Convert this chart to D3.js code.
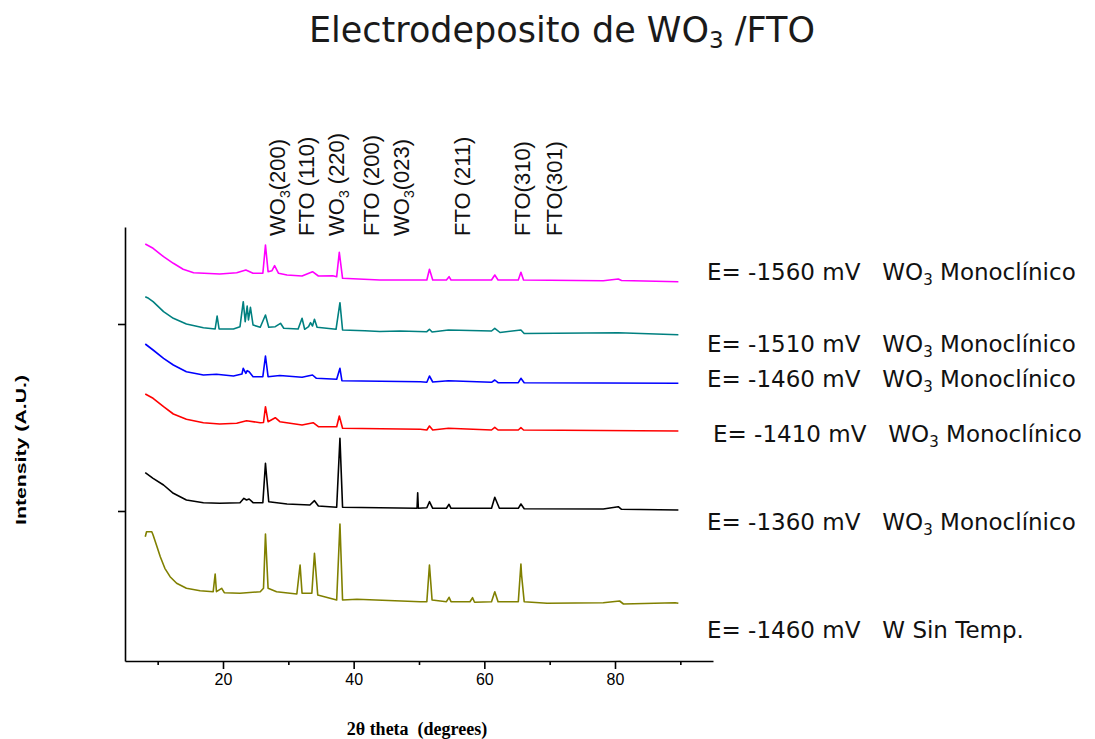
<!DOCTYPE html>
<html>
<head>
<meta charset="utf-8">
<script src="https://cdn.jsdelivr.net/npm/d3@7"></script>
<style>
  body { margin: 0; background: #fff; }
  text { white-space: pre; }
</style>
</head>
<body>
<svg id="chart"></svg>
<script>
const width = 1095, height = 739;

// [2θ (deg), intensity (a.u.)]
const scan1560 = [[8.1,417],[9.3,412.7],[10.9,404.3],[12.4,397.7],[13.9,391.7],[15.5,388.3],[19.5,387],[22.1,388.3],[23.5,391],[24.6,387.7],[26.1,387.7],[26.5,416],[26.9,389.3],[27.5,390.3],[27.9,395.3],[28.5,387.7],[29.8,386],[32.1,385],[33.7,389.3],[34.6,385],[36.8,385.3],[37.4,384.3],[37.8,408.7],[38.3,382.7],[44.0,381],[51.2,381],[51.6,391.7],[52.1,381],[54.2,381],[54.6,384.3],[54.9,381],[61.1,381],[61.6,386],[62.1,381],[65.2,381],[65.6,388.7],[66.0,381],[78.2,380.3],[80.5,382],[81.0,380.5],[89.7,379.3]];
const scan1510 = [[8.1,364.3],[8.6,362.7],[9.3,359.3],[10.9,349.3],[12.4,342.7],[14.4,337],[17.0,333.3],[18.8,332],[19.1,345],[19.4,332],[21.6,332],[22.6,334.3],[23.1,359.3],[23.4,339.3],[23.7,355],[23.9,341],[24.2,353.7],[24.6,336],[25.7,333.7],[26.5,346],[27.0,333.7],[28.0,334.3],[28.8,337.7],[29.3,332.7],[31.5,332],[32.1,342.7],[32.5,331.7],[33.1,334.3],[33.4,338.3],[33.7,335],[34.0,341.7],[34.4,333.7],[37.3,331.7],[37.9,358.3],[38.3,331],[41.7,330.3],[44.0,329.5],[47.1,330],[51.2,329.3],[51.6,331.7],[52.0,329],[54.5,331],[61.1,330],[61.6,332.7],[62.4,328.5],[65.6,331],[66.1,327.5],[80.5,328.3],[89.7,326.3]];
const scan1460 = [[8.1,317],[9.3,311],[10.9,302.7],[12.4,296],[14.4,289.3],[17.0,286],[19.0,286.7],[21.6,285],[22.9,287],[23.1,292.7],[23.5,287.7],[23.7,290.3],[24.0,289.3],[24.6,284.3],[26.1,284.3],[26.5,305],[26.9,284.3],[28.7,285.5],[32.1,283.7],[33.7,286],[34.3,282.7],[37.4,281.7],[37.9,292.7],[38.2,280.3],[50.2,279.3],[51.2,278.7],[51.6,285],[52.1,279],[54.5,280.3],[61.1,278.7],[61.6,281],[62.1,278.3],[65.2,278.3],[65.6,282.7],[66.1,278.3],[89.7,277.7]];
const scan1410 = [[8.1,267],[9.3,262.7],[10.9,254.3],[12.4,247],[14.4,241.7],[17.0,238.3],[19.5,237],[22.1,237.7],[23.6,240.3],[25.7,238.3],[26.2,238.5],[26.5,254.3],[26.9,239.3],[28.0,243.3],[28.7,239.3],[32.1,236],[33.8,238.3],[34.6,234.3],[37.4,234.3],[37.8,245],[38.3,232.7],[50.2,231.7],[51.2,231],[51.6,235],[52.1,231],[54.5,232.7],[61.1,231],[61.6,233.7],[62.1,231],[65.2,231],[65.6,233.3],[66.0,231],[89.7,230]];
const scan1360 = [[8.1,188.3],[9.3,182.7],[10.9,176],[12.4,167.7],[14.4,161],[17.0,158.3],[19.5,157.7],[22.6,158.3],[23.2,162.7],[23.6,161],[24.0,162],[24.6,158.3],[26.1,158.3],[26.5,197.7],[27.0,159.3],[29.8,157],[33.3,156],[34.0,160.3],[34.6,155],[37.4,153.7],[37.9,222.7],[38.3,153.7],[49.7,152.7],[49.8,168.3],[49.9,152.7],[51.2,153.3],[51.6,159.3],[52.1,152.7],[54.2,152.7],[54.6,156.7],[54.9,152.7],[61.1,152.7],[61.6,163.7],[62.3,152.7],[65.2,152.7],[65.6,157],[66.1,152.3],[78.2,152],[80.5,154.3],[81.0,151.7],[89.7,151]];
const scanSinTemp = [[8.1,124.3],[8.3,129.3],[9.1,129.3],[9.3,126],[9.9,114.3],[10.4,104.3],[11.1,92.7],[11.9,84.3],[12.9,77.7],[14.4,72.7],[16.5,70.3],[18.5,69.3],[18.8,87],[19.0,69.3],[19.8,72.7],[20.2,68.3],[22.6,67.7],[25.7,69.3],[26.2,72.7],[26.5,127],[26.9,72.7],[28.2,69.3],[31.3,67],[31.8,96],[32.1,67.7],[33.6,67.7],[34.0,107.7],[34.5,66],[37.4,61],[37.9,137],[38.3,61],[40.5,61.7],[50.2,59.3],[51.2,59.3],[51.6,96],[52.0,61],[54.2,59.3],[54.6,63.7],[54.9,59.3],[57.8,59.3],[58.2,63.3],[58.5,58.7],[61.1,59.3],[61.6,69.3],[62.1,59.3],[65.2,59.3],[65.6,97],[65.7,86],[66.1,59.3],[69.6,57.7],[78.2,58.3],[80.7,60],[81.3,57],[89.2,58.3],[89.7,57.7]];

const scans = [scan1560, scan1510, scan1460, scan1410, scan1360, scanSinTemp];
const scanColors = ["#ff00ff", "#008080", "#0000ff", "#ff0000", "#000000", "#808000"];

const potentials = ["-1560", "-1510", "-1460", "-1410", "-1360", "-1460"];
const phases = [["WO", "3", " Monoclínico"], ["WO", "3", " Monoclínico"], ["WO", "3", " Monoclínico"],
                ["WO", "3", " Monoclínico"], ["WO", "3", " Monoclínico"], ["W Sin Temp.", "", ""]];

// reflection labels: [main, subscript, rest] and their 2θ position
const peakNames = [["WO", "3", "(200)"], ["FTO (110)", "", ""], ["WO", "3", " (220)"], ["FTO (200)", "", ""],
                   ["WO", "3", "(023)"], ["FTO (211)", "", ""], ["FTO(310)", "", ""], ["FTO(301)", "", ""]];
const peakAt = [29.5, 33.9, 38.5, 43.9, 48.5, 57.8, 67.0, 71.9];

const majorTicks = [20, 40, 60, 80];
const minorTicks = [10, 30, 50, 70, 90];
const yTicks = [150, 337];

// layout
const legendX = [707, 707, 707, 713, 707, 707];
const legendY = [280, 352, 387, 442, 530, 638];

const svg = d3.select("#chart")
              .attr("width", width)
              .attr("height", height)
              .style("font-family", "'Liberation Sans', Arial, sans-serif");

const x = d3.scaleLinear().domain([5, 95]).range([125, 713]);
const y = d3.scaleLinear().domain([0, 434]).range([661, 227]);

// title
const title = svg.append("text")
                 .attr("x", 562)
                 .attr("y", 42)
                 .attr("text-anchor", "middle")
                 .style("font-family", "'DejaVu Sans', sans-serif")
                 .style("font-size", "35px")
                 .attr("fill", "#1a1a1a");
title.append("tspan").text("Electrodeposito de WO");
title.append("tspan").attr("dy", 6).style("font-size", "23px").text("3");
title.append("tspan").attr("dy", -6).text(" /FTO");

// axes
const xAxis = svg.append("g")
                 .attr("transform", `translate(0,${y.range()[0]})`)
                 .call(d3.axisBottom(x).tickValues(majorTicks).tickSize(8).tickSizeOuter(0).tickPadding(5));
svg.append("g")
   .attr("transform", `translate(0,${y.range()[0]})`)
   .call(d3.axisBottom(x).tickValues(minorTicks).tickSize(4).tickFormat(""))
   .select(".domain").remove();
xAxis.selectAll("text").style("font-size", "16px").style("font-family", "'Liberation Sans', Arial, sans-serif");

svg.append("g")
   .attr("transform", `translate(${x.range()[0]},0)`)
   .call(d3.axisLeft(y).tickValues(yTicks).tickSize(7).tickSizeOuter(0).tickFormat(""));

svg.selectAll(".domain, .tick line").attr("stroke", "#000").attr("stroke-width", 1.6);

// axis titles
svg.append("text")
   .attr("x", 417)
   .attr("y", 735)
   .attr("text-anchor", "middle")
   .style("font-family", "'Liberation Serif', 'Times New Roman', serif")
   .style("font-weight", "bold")
   .style("font-size", "18px")
   .text("2θ theta  (degrees)");

svg.append("text")
   .attr("transform", "translate(26,450) rotate(-90)")
   .attr("text-anchor", "middle")
   .attr("textLength", 150)
   .attr("lengthAdjust", "spacingAndGlyphs")
   .style("font-weight", "bold")
   .style("font-size", "14px")
   .text("Intensity (A.U.)");

// scans
const line = d3.line()
               .x(d => x(d[0]))
               .y(d => y(d[1]));

svg.selectAll(".scan")
   .data(scans)
   .enter()
   .append("path")
   .attr("class", "scan")
   .attr("d", line)
   .attr("fill", "none")
   .attr("stroke", (d, i) => scanColors[i])
   .attr("stroke-width", 1.6)
   .attr("stroke-linejoin", "round");

// reflection labels
const peaks = svg.selectAll(".peak")
                 .data(peakNames)
                 .enter()
                 .append("text")
                 .attr("class", "peak")
                 .attr("transform", (d, i) => `translate(${x(peakAt[i])},236) rotate(-90)`)
                 .style("font-size", "22px")
                 .attr("fill", "#111");
peaks.append("tspan").text(d => d[0]);
peaks.append("tspan").attr("dy", 5).style("font-size", "14px").text(d => d[1]);
peaks.append("tspan").attr("dy", -5).text(d => d[2]);

// sample labels
const labels = svg.selectAll(".sample")
                  .data(potentials)
                  .enter()
                  .append("text")
                  .attr("class", "sample")
                  .attr("x", (d, i) => legendX[i])
                  .attr("y", (d, i) => legendY[i])
                  .style("font-family", "'DejaVu Sans', sans-serif")
                  .style("font-size", "23px")
                  .attr("fill", "#111");
labels.append("tspan").text((d, i) => `E= ${d} mV   ${phases[i][0]}`);
labels.append("tspan").attr("dy", 5).style("font-size", "15px").text((d, i) => phases[i][1]);
labels.append("tspan").attr("dy", -5).text((d, i) => phases[i][2]);
</script>
</body>
</html>
